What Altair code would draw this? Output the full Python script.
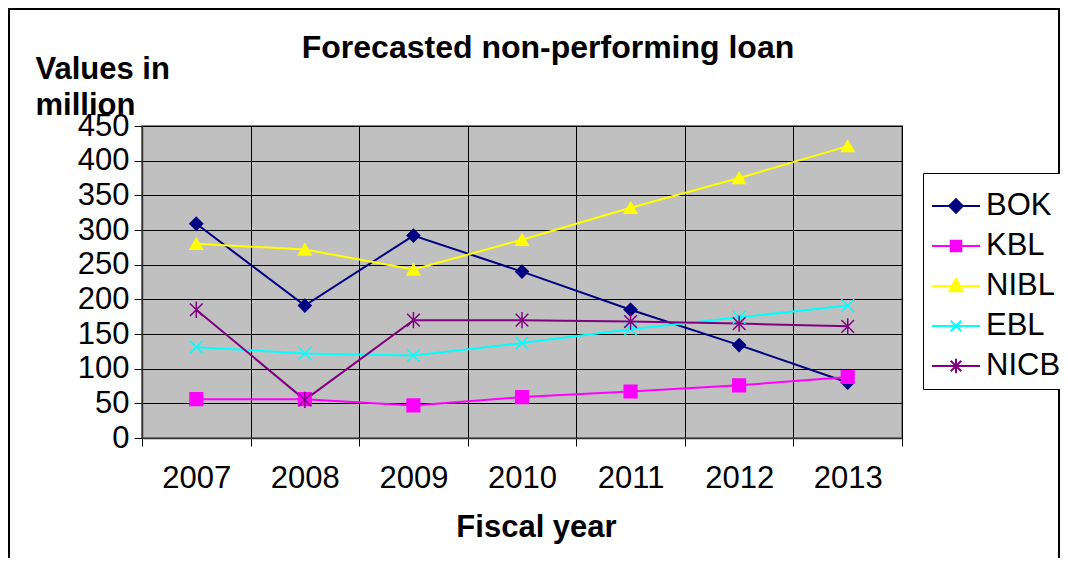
import altair as alt
import pandas as pd

years = ["2007", "2008", "2009", "2010", "2011", "2012", "2013"]
banks = ["BOK", "KBL", "NIBL", "EBL", "NICB"]
BOK = [309, 191, 292, 240, 185, 134, 80]
KBL = [56, 56, 47, 59, 67, 76, 88]
NIBL = [280, 272, 243, 286, 332, 375, 421]
EBL = [131, 122, 119, 137, 157, 174, 191]
NICB = [185, 55, 170, 170, 168, 165, 161]
colors = ["#000080", "#FF00FF", "#FFFF00", "#00FFFF", "#800080"]

series = {"BOK": BOK, "KBL": KBL, "NIBL": NIBL, "EBL": EBL, "NICB": NICB}
rows = []
for b in banks:
    for y, v in zip(years, series[b]):
        rows.append({"year": y, "bank": b, "value": v})
df = pd.DataFrame(rows)

FONT = "Liberation Sans"

marker_shapes = [
    "diamond",
    "square",
    "triangle-up",
    "M-1,-1L1,1M-1,1L1,-1",
    "M-1,-1L1,1M-1,1L1,-1M0,-1.3L0,1.3",
]
legend_shapes = [
    "M-1,0L1,0M0,-0.28L0.28,0L0,0.28L-0.28,0Z",
    "M-1,0L1,0M-0.22,-0.22L0.22,-0.22L0.22,0.22L-0.22,0.22Z",
    "M-1,0L1,0M0,-0.3L0.28,0.22L-0.28,0.22Z",
    "M-1,0L1,0M-0.22,-0.22L0.22,0.22M-0.22,0.22L0.22,-0.22",
    "M-1,0L1,0M-0.22,-0.22L0.22,0.22M-0.22,0.22L0.22,-0.22M0,-0.3L0,0.3",
]

xenc = alt.X(
    "year:O",
    bandPosition=0.5,
    scale=alt.Scale(type="band", paddingInner=0, paddingOuter=0),
    axis=alt.Axis(
        title="Fiscal year",
        tickBand="extent",
        grid=True,
        gridColor="#000000",
        gridWidth=1,
        labelAngle=0,
        labelFontSize=31,
        labelFont=FONT,
        labelColor="#000000",
        labelPadding=17,
        tickSize=8,
        tickColor="#000000",
        domainColor="#333333",
        domainWidth=1.5,
        titleFontSize=31,
        titleFont=FONT,
        titleFontWeight="bold",
        titleX=394,
        titleY=98,
        titleAlign="center",
        titleBaseline="alphabetic",
        titleColor="#000000",
    ),
)
yenc = alt.Y(
    "value:Q",
    scale=alt.Scale(domain=[0, 450], nice=False, zero=True),
    axis=alt.Axis(
        title=["Values in", "million"],
        values=list(range(0, 451, 50)),
        grid=True,
        gridColor="#000000",
        gridWidth=1,
        labelFontSize=31,
        labelFont=FONT,
        labelColor="#000000",
        labelPadding=5,
        tickSize=8,
        tickColor="#000000",
        domainColor="#333333",
        domainWidth=1.5,
        titleFontSize=31,
        titleFont=FONT,
        titleFontWeight="bold",
        titleAngle=0,
        titleX=-107,
        titleY=-48,
        titleAlign="left",
        titleBaseline="alphabetic",
        titleLineHeight=36,
        titleColor="#000000",
    ),
)

cscale = alt.Scale(domain=banks, range=colors)

lines = alt.Chart(df).mark_line(strokeWidth=2).encode(
    x=xenc,
    y=yenc,
    color=alt.Color("bank:N", scale=cscale, legend=None),
)

points = alt.Chart(df).mark_point(filled=True, size=160, strokeWidth=1.5, opacity=1).encode(
    x=xenc,
    y=yenc,
    shape=alt.Shape("bank:N", scale=alt.Scale(domain=banks, range=marker_shapes), legend=None),
    fill=alt.Fill("bank:N", scale=cscale, legend=None),
    stroke=alt.Stroke("bank:N", scale=cscale, legend=None),
)

leg = alt.Legend(
    title=None,
    orient="none",
    legendX=781,
    legendY=47,
    strokeColor="#000000",
    fillColor="#FFFFFF",
    padding=8,
    labelFontSize=31,
    labelFont=FONT,
    labelColor="#000000",
    symbolStrokeWidth=2,
    symbolSize=2300,
    labelOffset=5,
    rowPadding=-11,
)

legend_layer = (
    alt.Chart(df)
    .transform_filter("datum.value < -1000")
    .mark_point(filled=True, size=2300, strokeWidth=2, opacity=1)
    .encode(
        x=xenc,
        y=yenc,
        shape=alt.Shape("bank:N", scale=alt.Scale(domain=banks, range=legend_shapes), legend=leg),
        fill=alt.Fill("bank:N", scale=alt.Scale(domain=banks, range=colors), legend=leg),
        stroke=alt.Stroke("bank:N", scale=alt.Scale(domain=banks, range=colors), legend=leg),
    )
)

frame = alt.Chart(pd.DataFrame({"a": [0]})).mark_rect(
    fillOpacity=0, stroke="#000000", strokeWidth=2
).encode(
    x=alt.value(-133), x2=alt.value(917), y=alt.value(-117), y2=alt.value(445)
)

chart = (
    alt.layer(frame, lines, points, legend_layer)
    .resolve_scale(shape="independent", fill="independent", stroke="independent", color="independent")
    .properties(
        width=760,
        height=312,
        title=alt.TitleParams(
            "Forecasted non-performing loan",
            fontSize=32,
            font=FONT,
            fontWeight="bold",
            anchor="middle",
            dx=26,
            dy=57,
            color="#000000",
            offset=0,
        ),
        autosize=alt.AutoSizeParams(type="none"),
        padding={"left": 134, "top": 118, "right": 158, "bottom": 120},
        background="#FFFFFF",
    )
    .configure_view(fill="#C0C0C0", stroke="#808080", strokeWidth=2)
)

chart.save("out.html", embed_options={"renderer": "svg", "actions": False})
